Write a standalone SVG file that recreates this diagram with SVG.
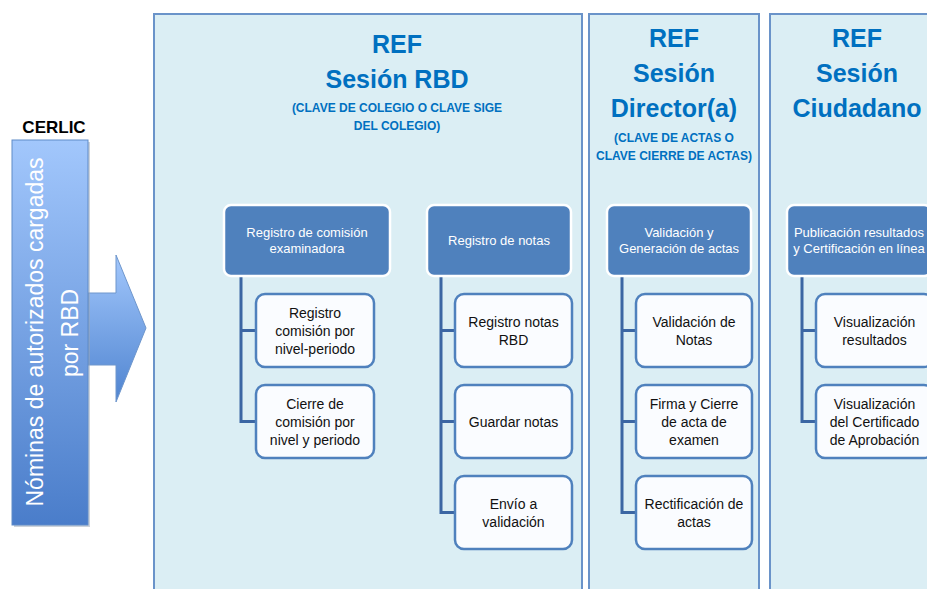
<svg xmlns="http://www.w3.org/2000/svg" width="927" height="589" viewBox="0 0 927 589">
  <defs>
    <linearGradient id="gBar" x1="0" y1="0" x2="0" y2="1">
      <stop offset="0" stop-color="#A2C7FC"/>
      <stop offset="1" stop-color="#4A7DCA"/>
    </linearGradient>
    <linearGradient id="gArrow" x1="0" y1="0" x2="0" y2="1">
      <stop offset="0" stop-color="#A2C7FC"/>
      <stop offset="1" stop-color="#4F84D0"/>
    </linearGradient>
    <style>
      .panel { fill: #DBEEF4; stroke: #6A93C9; stroke-width: 2; }
      .title { font-family: "Liberation Sans", Arial, sans-serif; font-weight: bold; fill: #0070C0; text-anchor: middle; }
      .t1 { font-size: 25px; }
      .t2 { font-size: 12px; }
      .head { fill: #4F81BD; stroke: #FFFFFF; stroke-width: 2.5; }
      .headtxt { font-family: "Liberation Sans", Arial, sans-serif; font-size: 13px; fill: #FFFFFF; text-anchor: middle; }
      .child { fill: #FAFCFF; stroke: #4F81BD; stroke-width: 2.5; }
      .childtxt { font-family: "Liberation Sans", Arial, sans-serif; font-size: 14px; fill: #111111; text-anchor: middle; }
      .conn { fill: none; stroke: #3B66A3; stroke-width: 3; }
    </style>
  </defs>

  <rect width="927" height="589" fill="#FFFFFF"/>

  <!-- Panels -->
  <g id="panel-rbd">
    <rect class="panel" x="154" y="14" width="428" height="600"/>
    <text class="title t1" x="397" y="53">REF</text>
    <text class="title t1" x="397" y="88">Sesión RBD</text>
    <text class="title t2" x="397" y="112">(CLAVE DE COLEGIO O CLAVE SIGE</text>
    <text class="title t2" x="397" y="130">DEL COLEGIO)</text>
  </g>
  <g id="panel-director">
    <rect class="panel" x="589" y="14" width="170" height="600"/>
    <text class="title t1" x="674" y="47">REF</text>
    <text class="title t1" x="674" y="82">Sesión</text>
    <text class="title t1" x="674" y="117">Director(a)</text>
    <text class="title t2" x="674" y="142">(CLAVE DE ACTAS O</text>
    <text class="title t2" x="674" y="160">CLAVE CIERRE DE ACTAS)</text>
  </g>
  <g id="panel-ciudadano">
    <rect class="panel" x="770" y="14" width="200" height="600"/>
    <text class="title t1" x="857" y="47">REF</text>
    <text class="title t1" x="857" y="82">Sesión</text>
    <text class="title t1" x="857" y="117">Ciudadano</text>
  </g>

  <!-- CERLIC source -->
  <g id="cerlic">
    <text x="54" y="133" font-family="Liberation Sans, Arial, sans-serif" font-size="17" font-weight="bold" fill="#000000" text-anchor="middle">CERLIC</text>
    <polygon points="88,293 116,293 116,255 146,328 116,402 116,365 88,365" fill="url(#gArrow)" stroke="#6E96CC" stroke-width="1"/>
    <rect x="14" y="142" width="76" height="385" fill="#9AA6B6" opacity="0.5"/>
    <rect x="12" y="140" width="76" height="385" fill="url(#gBar)" stroke="#5F8BC8" stroke-width="1"/>
    <text transform="translate(43,332) rotate(-90)" font-family="Liberation Sans, Arial, sans-serif" font-size="23" fill="#FFFFFF" text-anchor="middle">Nóminas de autorizados cargadas</text>
    <text transform="translate(78,333) rotate(-90)" font-family="Liberation Sans, Arial, sans-serif" font-size="23" fill="#FFFFFF" text-anchor="middle">por RBD</text>
  </g>

  <!-- Connectors -->
  <g id="connectors">
    <path class="conn" d="M241,276 V421.5 H256 M241,330.5 H256"/>
    <path class="conn" d="M441,276 V512.5 H455 M441,330.5 H455 M441,421.5 H455"/>
    <path class="conn" d="M622,276 V512.5 H636 M622,330.5 H636 M622,421.5 H636"/>
    <path class="conn" d="M802,276 V421.5 H816 M802,330.5 H816"/>
  </g>

  <!-- Column 1 -->
  <g id="h-comision">
    <rect class="head" x="224" y="205" width="166" height="71" rx="7"/>
    <text class="headtxt" x="307" y="237">Registro de comisión</text>
    <text class="headtxt" x="307" y="253">examinadora</text>
  </g>
  <g id="c-registro-comision">
    <rect class="child" x="256" y="294" width="118" height="73" rx="9"/>
    <text class="childtxt" x="315" y="317.5">Registro</text>
    <text class="childtxt" x="315" y="335.5">comisión por</text>
    <text class="childtxt" x="315" y="353.5">nivel-periodo</text>
  </g>
  <g id="c-cierre-comision">
    <rect class="child" x="256" y="385" width="118" height="73" rx="9"/>
    <text class="childtxt" x="315" y="408.5">Cierre de</text>
    <text class="childtxt" x="315" y="426.5">comisión por</text>
    <text class="childtxt" x="315" y="444.5">nivel y periodo</text>
  </g>

  <!-- Column 2 -->
  <g id="h-notas">
    <rect class="head" x="427" y="205" width="144" height="71" rx="7"/>
    <text class="headtxt" x="499" y="245">Registro de notas</text>
  </g>
  <g id="c-registro-notas">
    <rect class="child" x="455" y="294" width="117" height="73" rx="9"/>
    <text class="childtxt" x="513.5" y="326.5">Registro notas</text>
    <text class="childtxt" x="513.5" y="344.5">RBD</text>
  </g>
  <g id="c-guardar">
    <rect class="child" x="455" y="385" width="117" height="73" rx="9"/>
    <text class="childtxt" x="513.5" y="426.5">Guardar notas</text>
  </g>
  <g id="c-envio">
    <rect class="child" x="455" y="476" width="117" height="73" rx="9"/>
    <text class="childtxt" x="513.5" y="508.5">Envío a</text>
    <text class="childtxt" x="513.5" y="526.5">validación</text>
  </g>

  <!-- Column 3 -->
  <g id="h-validacion">
    <rect class="head" x="607" y="205" width="144" height="71" rx="7"/>
    <text class="headtxt" x="679" y="237">Validación y</text>
    <text class="headtxt" x="679" y="253">Generación de actas</text>
  </g>
  <g id="c-validacion-notas">
    <rect class="child" x="636" y="294" width="116" height="73" rx="9"/>
    <text class="childtxt" x="694" y="326.5">Validación de</text>
    <text class="childtxt" x="694" y="344.5">Notas</text>
  </g>
  <g id="c-firma">
    <rect class="child" x="636" y="385" width="116" height="73" rx="9"/>
    <text class="childtxt" x="694" y="408.5">Firma y Cierre</text>
    <text class="childtxt" x="694" y="426.5">de acta de</text>
    <text class="childtxt" x="694" y="444.5">examen</text>
  </g>
  <g id="c-rectificacion">
    <rect class="child" x="636" y="476" width="116" height="73" rx="9"/>
    <text class="childtxt" x="694" y="508.5">Rectificación de</text>
    <text class="childtxt" x="694" y="526.5">actas</text>
  </g>

  <!-- Column 4 -->
  <g id="h-publicacion">
    <rect class="head" x="787" y="205" width="144" height="71" rx="7"/>
    <text class="headtxt" x="859" y="237">Publicación resultados</text>
    <text class="headtxt" x="859" y="253">y Certificación en línea</text>
  </g>
  <g id="c-vis-resultados">
    <rect class="child" x="816" y="294" width="117" height="73" rx="9"/>
    <text class="childtxt" x="874.5" y="326.5">Visualización</text>
    <text class="childtxt" x="874.5" y="344.5">resultados</text>
  </g>
  <g id="c-vis-certificado">
    <rect class="child" x="816" y="385" width="117" height="73" rx="9"/>
    <text class="childtxt" x="874.5" y="408.5">Visualización</text>
    <text class="childtxt" x="874.5" y="426.5">del Certificado</text>
    <text class="childtxt" x="874.5" y="444.5">de Aprobación</text>
  </g>
</svg>
